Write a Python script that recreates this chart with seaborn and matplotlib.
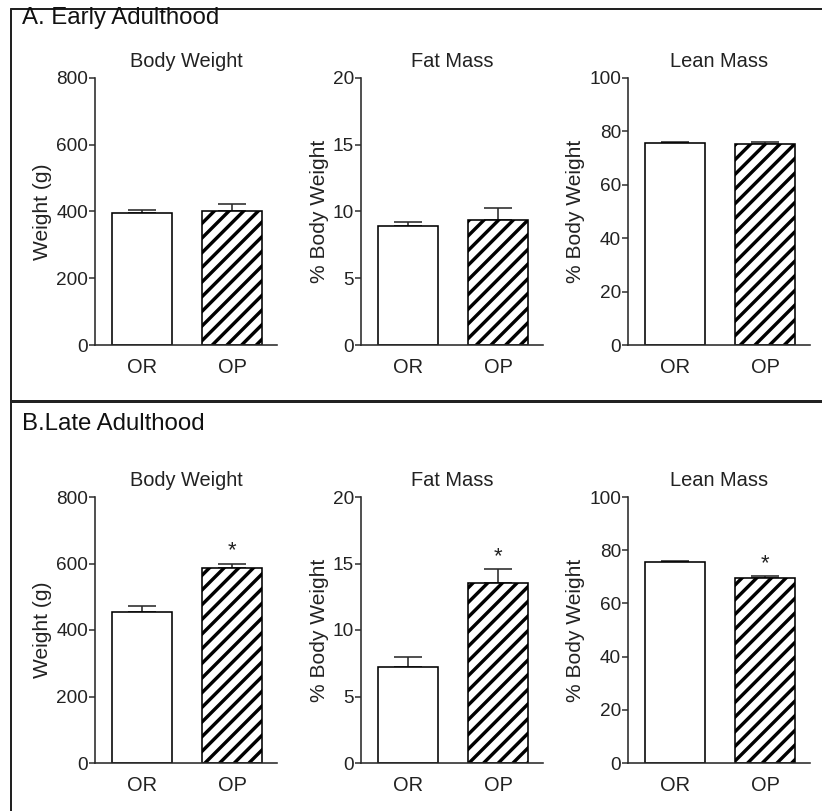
import matplotlib
matplotlib.use("Agg")
import matplotlib.pyplot as plt
import seaborn as sns
import pandas as pd
from matplotlib.lines import Line2D

DPI = 88
K = 72 / DPI  # convert pixel sizes to points

sns.set_style("white")
plt.rcParams['font.family'] = ['Liberation Sans', 'DejaVu Sans']
plt.rcParams['hatch.linewidth'] = 3.4 * K

groups = ["OR", "OP"]
panel_titles = ["A. Early Adulthood", "B.Late Adulthood"]
measures = ["Body Weight", "Fat Mass", "Lean Mass"]
ylabels = ["Weight (g)", "% Body Weight", "% Body Weight"]
ymax = [800, 20, 100]
ysteps = [200, 5, 20]

# Early adulthood
early_bw = [395, 402]
early_bw_err = [10, 20]
early_fat = [8.9, 9.4]
early_fat_err = [0.35, 0.85]
early_lean = [75.5, 75.4]
early_lean_err = [0.4, 0.8]

# Late adulthood
late_bw = [455, 585]
late_bw_err = [16, 15]
late_fat = [7.25, 13.5]
late_fat_err = [0.7, 1.05]
late_lean = [75.4, 69.4]
late_lean_err = [0.5, 0.8]
late_sig = [False, True]

data = [
    [(early_bw, early_bw_err), (early_fat, early_fat_err), (early_lean, early_lean_err)],
    [(late_bw, late_bw_err), (late_fat, late_fat_err), (late_lean, late_lean_err)],
]
sig = [[False, False], late_sig]

W, H = 822, 811
fig = plt.figure(figsize=(W / DPI, H / DPI), dpi=DPI)

ax_lefts = [95, 361, 628]
ax_w = 182
ax_rows = [(78, 345), (497, 763)]

dark = "#2a2a2a"
for r in range(2):
    top, bot = ax_rows[r]
    for c in range(3):
        ax = fig.add_axes([ax_lefts[c] / W, 1 - bot / H, ax_w / W, (bot - top) / H])
        vals, errs = data[r][c]
        df = pd.DataFrame({"group": groups, "value": vals})
        sns.barplot(data=df, x="group", y="value", ax=ax, color="white",
                    edgecolor="black", linewidth=1.6 * K, width=0.66, errorbar=None)
        for i, p in enumerate(ax.patches):
            p.set_facecolor("white")
            p.set_edgecolor("black")
            if i == 1:
                p.set_hatch("//")
            p.set_zorder(2)
        ax.errorbar([0, 1], vals, yerr=[[0, 0], errs], fmt="none", ecolor=dark,
                    elinewidth=1.6 * K, capsize=14 * K, capthick=1.6 * K, zorder=1)
        for i in range(2):
            if sig[r][i]:
                ax.text(i, vals[i] + errs[i] + ymax[c] * 0.008, "*", ha="center",
                        va="bottom", fontsize=22 * K, color="#222222")
        ax.set_xlim(-0.52, 1.50)
        ax.set_ylim(0, ymax[c])
        ax.set_yticks(range(0, ymax[c] + 1, ysteps[c]))
        ax.set_xlabel("")
        ax.set_ylabel(ylabels[c], fontsize=21 * K, color="#222222", labelpad=4 * K)
        ax.set_title(measures[c], fontsize=20 * K, color="#222222", pad=11 * K)
        for s in ["top", "right"]:
            ax.spines[s].set_visible(False)
        for s in ["left", "bottom"]:
            ax.spines[s].set_color(dark)
            ax.spines[s].set_linewidth(1.6 * K)
        ax.tick_params(axis="y", left=True, length=6 * K, width=1.5 * K, color=dark,
                       labelsize=19 * K, labelcolor="#222222", pad=1 * K)
        ax.tick_params(axis="x", bottom=False, labelsize=20 * K, labelcolor="#222222", pad=9 * K)
        ax.patch.set_alpha(0)

# panel titles
fig.text(22 / W, 1 - 18 / H, panel_titles[0], fontsize=24 * K, color="#111111", va="center", ha="left")
fig.text(22 / W, 1 - 424 / H, panel_titles[1], fontsize=24 * K, color="#111111", va="center", ha="left")

# frame lines
fig.add_artist(Line2D([11 / W, 11 / W], [0, 1 - 9 / H], transform=fig.transFigure, color="#222222", lw=2 * K))
fig.add_artist(Line2D([11 / W, 1], [1 - 9 / H, 1 - 9 / H], transform=fig.transFigure, color="#222222", lw=2 * K))
fig.add_artist(Line2D([11 / W, 1], [1 - 401.5 / H, 1 - 401.5 / H], transform=fig.transFigure, color="#222222", lw=3 * K))

fig.savefig("out.png", dpi=DPI)
